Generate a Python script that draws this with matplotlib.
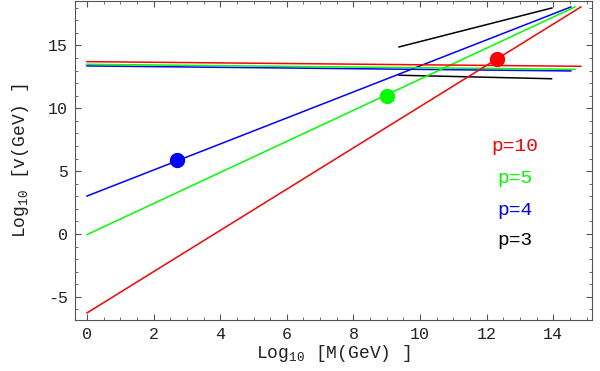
import matplotlib
matplotlib.use("Agg")
import matplotlib.pyplot as plt
from matplotlib.ticker import MultipleLocator

plt.rcParams['font.family'] = ['Liberation Mono', 'DejaVu Sans Mono']
plt.rcParams['mathtext.fontset'] = 'custom'
plt.rcParams['mathtext.rm'] = 'Liberation Mono'
plt.rcParams['mathtext.it'] = 'Liberation Mono'
plt.rcParams['axes.unicode_minus'] = False

# rising lines (x0, y0) -> (x1, y1)
rise_x = {'p=10': [0, 14.83], 'p=5': [0, 14.65], 'p=4': [0, 14.53], 'p=3': [9.37, 13.96]}
rise_y = {'p=10': [-6.28, 18.06], 'p=5': [-0.05, 18.06], 'p=4': [3.02, 18.06], 'p=3': [14.88, 17.98]}
# nearly flat lines
flat_x = {'p=10': [0, 14.83], 'p=5': [0, 14.65], 'p=4': [0, 14.53], 'p=3': [9.37, 13.95]}
flat_y = {'p=10': [13.71, 13.34], 'p=5': [13.5, 13.1], 'p=4': [13.37, 12.97], 'p=3': [12.63, 12.35]}
# marked points
dot_x = {'p=10': 12.3, 'p=5': 9.0, 'p=4': 2.69}
dot_y = {'p=10': 13.9, 'p=5': 10.98, 'p=4': 5.89}

colors = {'p=10': '#ff0000', 'p=5': '#00ff00', 'p=4': '#0000ff', 'p=3': '#000000'}
label_y = {'p=10': 7.0, 'p=5': 4.4, 'p=4': 1.9, 'p=3': -0.55}

fig = plt.figure(figsize=(6, 3.71), dpi=100)
ax = fig.add_axes([0.125, 0.1375, 0.862, 0.86])

for k in ['p=3', 'p=4', 'p=5', 'p=10']:
    ax.plot(rise_x[k], rise_y[k], color=colors[k], lw=1.1)
    ax.plot(flat_x[k], flat_y[k], color=colors[k], lw=1.1)
    if k in dot_x:
        ax.plot(dot_x[k], dot_y[k], 'o', color=colors[k], ms=10, zorder=5)
    ax.text(12.85, label_y[k], k, color=colors[k], fontsize=14, ha='center', va='center')

ax.set_xlim(-0.36, 15.17)
ax.set_ylim(-6.84, 18.54)
ax.xaxis.set_major_locator(MultipleLocator(2))
ax.xaxis.set_minor_locator(MultipleLocator(0.5))
ax.yaxis.set_major_locator(MultipleLocator(5))
ax.yaxis.set_minor_locator(MultipleLocator(1))
ax.tick_params(which='both', direction='in', top=True, right=True, color='#555555',
               labelsize=12, labelcolor='#222222')
ax.tick_params(which='major', length=4, pad=5)
ax.tick_params(which='minor', length=2)
for s in ax.spines.values():
    s.set_color('#555555')
    s.set_linewidth(0.8)

ax.set_xlabel(r'Log$_{\mathrm{10}}$ [M(GeV) ]', fontsize=13, color='#222222', labelpad=1)
ax.set_ylabel(r'Log$_{\mathrm{10}}$ [v(GeV) ]', fontsize=13, color='#222222', labelpad=12)

fig.savefig('out.png', dpi=100)
